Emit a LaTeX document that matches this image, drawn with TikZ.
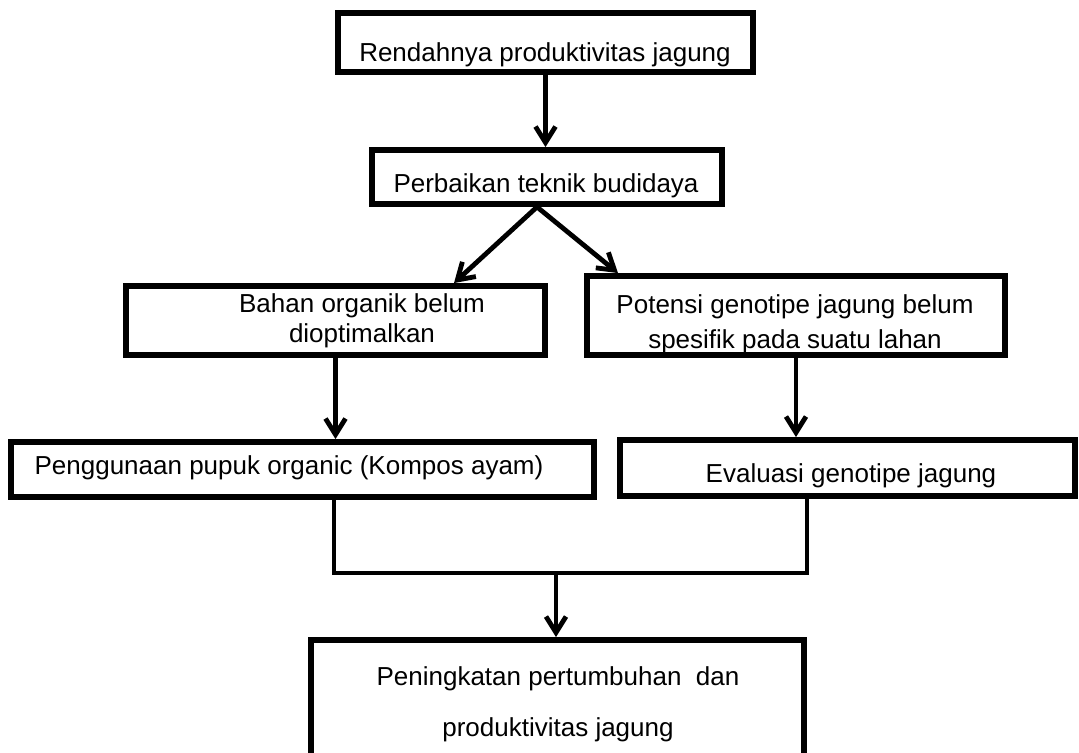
\documentclass[tikz,border=0pt]{standalone}
\usepackage{fontspec}
\setmainfont{Liberation Sans}
\usetikzlibrary{arrows.meta,calc}
\begin{document}
\begin{tikzpicture}[x=0.75pt,y=-0.75pt,
  box/.style={draw, line width=4.4pt, inner sep=0pt, line join=miter},
  conn/.style={line width=3.6pt, -{Straight Barb[length=12pt,width=15pt]}},
  link/.style={line width=3.6pt, line join=miter},
  txt/.style={anchor=base, inner sep=0pt, font=\fontsize{19.5}{24}\selectfont}]
\useasboundingbox (0,0) rectangle (1079,753);
\fill[white] (0,0) rectangle (1079,753);
\clip (0,0) rectangle (1079,753);
% boxes
\node[box, minimum width=415*0.75pt, minimum height=59*0.75pt] (b1) at (545.5,42.5) {};
\node[box, minimum width=350*0.75pt, minimum height=54*0.75pt] (b2) at (547,177) {};
\node[box, minimum width=419*0.75pt, minimum height=69*0.75pt] (b3) at (335.5,320.5) {};
\node[box, minimum width=418*0.75pt, minimum height=79*0.75pt] (b4) at (796,315.5) {};
\node[box, minimum width=583*0.75pt, minimum height=55*0.75pt] (b5) at (302.5,469.5) {};
\node[box, minimum width=455*0.75pt, minimum height=56*0.75pt] (b6) at (847.5,468) {};
\node[box, minimum width=493*0.75pt, minimum height=160*0.75pt] (b7) at (557.5,720) {};
% texts
\node[txt] (t1) at (545,61) {Rendahnya produktivitas jagung};
\node[txt] (t2) at (546,192) {Perbaikan teknik budidaya};
\node[txt] (t3a) at (362,312) {Bahan organik belum};
\node[txt] (t3b) at (362,342) {dioptimalkan};
\node[txt] (t4a) at (795,313) {Potensi genotipe jagung belum};
\node[txt] (t4b) at (795,348) {spesifik pada suatu lahan};
\node[txt] (t5) at (289,474) {Penggunaan pupuk organic (Kompos ayam)};
\node[txt] (t6) at (851,482) {Evaluasi genotipe jagung};
\node[txt] (t7a) at (558,685) {Peningkatan pertumbuhan\ \ dan};
\node[txt] (t7b) at (558,736) {produktivitas jagung};
% connectors
\draw[conn] (b1.south) -- (b1.south |- b2.north);
\coordinate (fork) at ($(b2.south)+(-10,0)$);
\draw[conn] (fork) -- ($(b3.north)+(118.5,0)$);
\draw[conn] (fork) -- ($(b4.north)+(-178,0)$);
\draw[conn] (b3.south) -- (b3.south |- b5.north);
\draw[conn] (b4.south) -- (b4.south |- b6.north);
\coordinate (jm) at (556,573);
\draw[link] ($(b5.south)+(31.5,0)$) |- (jm) -| ($(b6.south)+(-40.5,0)$);
\draw[conn] (jm) -- (jm |- b7.north);
\end{tikzpicture}
\end{document}
